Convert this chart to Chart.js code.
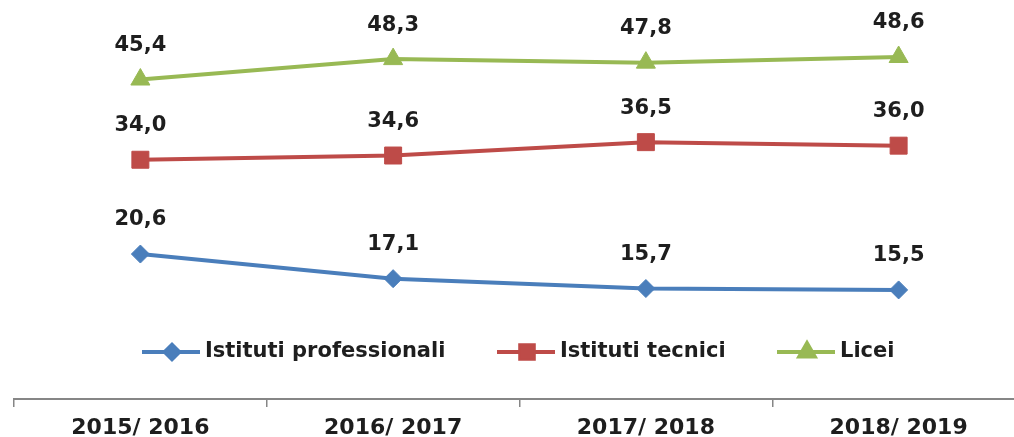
<!DOCTYPE html>
<html>
<head>
<meta charset="utf-8">
<script src="https://cdn.jsdelivr.net/npm/chart.js@4"></script>
<style>
  html, body { margin: 0; padding: 0; overflow: hidden; background: #fff; }
  /* la tela è un po' più larga della finestra: l'asse prosegue oltre il bordo destro */
  #wrap { width: 1014px; height: 437px; overflow: hidden; position: relative; }
  #grafico { position: absolute; left: 0; top: 0; }
</style>
</head>
<body>
<div id="wrap"><canvas id="grafico" width="1038" height="437"></canvas></div>
<script>
// Anni scolastici (asse X)
const anni = ['2015/ 2016', '2016/ 2017', '2017/ 2018', '2018/ 2019'];

// Percentuali per tipo di istituto
const professionali = [20.6, 17.1, 15.7, 15.5];
const tecnici = [34.0, 34.6, 36.5, 36.0];
const licei = [45.4, 48.3, 47.8, 48.6];

// Nomi delle serie
const nomiSerie = ['Istituti professionali', 'Istituti tecnici', 'Licei'];

const colori = ['#4a7ebb', '#be4b48', '#98b954'];
const marcatori = ['rectRot', 'rect', 'triangle'];
const raggi = [9, 12, 11];

// etichette con il valore sopra ogni punto
const etichetteValori = {
  id: 'etichetteValori',
  afterDatasetsDraw(chart) {
    const ctx = chart.ctx;
    ctx.save();
    ctx.font = 'bold 21px "DejaVu Sans"';
    ctx.fillStyle = '#1e1e1e';
    ctx.textAlign = 'center';
    ctx.textBaseline = 'middle';
    chart.data.datasets.forEach((ds, i) => {
      chart.getDatasetMeta(i).data.forEach((pt, j) => {
        ctx.fillText(ds.data[j].toFixed(1).replace('.', ','), pt.x, pt.y - 34);
      });
    });
    ctx.restore();
  }
};

// legenda in stile Excel (linea + marcatore) sovrapposta al grafico
const legendaExcel = {
  id: 'legendaExcel',
  afterDraw(chart) {
    const ctx = chart.ctx;
    const inizi = [142, 497, 777];
    const y = 352;
    ctx.save();
    ctx.font = 'bold 21px "DejaVu Sans"';
    ctx.textBaseline = 'middle';
    ctx.textAlign = 'left';
    chart.data.datasets.forEach((ds, i) => {
      const x0 = inizi[i];
      ctx.strokeStyle = ds.borderColor;
      ctx.lineWidth = 4;
      ctx.beginPath();
      ctx.moveTo(x0, y);
      ctx.lineTo(x0 + 58, y);
      ctx.stroke();
      ctx.fillStyle = ds.borderColor;
      Chart.helpers.drawPoint(ctx, {
        pointStyle: ds.pointStyle,
        radius: ds.pointRadius * 0.8,
        rotation: 0,
        borderWidth: 1
      }, x0 + 30, y);
      ctx.fill();
      ctx.fillStyle = '#1e1e1e';
      ctx.fillText(ds.label, x0 + 63, y);
    });
    ctx.restore();
  }
};

const serie = [professionali, tecnici, licei].map((valori, i) => ({
  label: nomiSerie[i],
  data: valori,
  borderColor: colori[i],
  backgroundColor: colori[i],
  borderWidth: 4,
  pointStyle: marcatori[i],
  pointRadius: raggi[i],
  pointHoverRadius: raggi[i],
  pointBorderWidth: 1,
  tension: 0
}));

new Chart(document.getElementById('grafico'), {
  type: 'line',
  data: { labels: anni, datasets: serie },
  options: {
    responsive: false,
    animation: false,
    layout: { padding: { left: 14, right: 0, top: 19, bottom: 0 } },
    plugins: {
      legend: { display: false },
      tooltip: { enabled: false }
    },
    scales: {
      x: {
        offset: true,
        afterFit(scale) { scale.height = 38; },
        grid: {
          offset: true,
          drawOnChartArea: false,
          drawTicks: true,
          tickLength: 8,
          color: '#868686',
          lineWidth: 1.5
        },
        border: { display: true, color: '#868686', width: 2 },
        ticks: {
          color: '#1e1e1e',
          padding: 10,
          font: { family: 'DejaVu Sans', size: 22, weight: 'bold', lineHeight: 1 }
        }
      },
      y: {
        display: false,
        min: 0,
        max: 54
      }
    }
  },
  plugins: [etichetteValori, legendaExcel]
});
</script>
</body>
</html>
